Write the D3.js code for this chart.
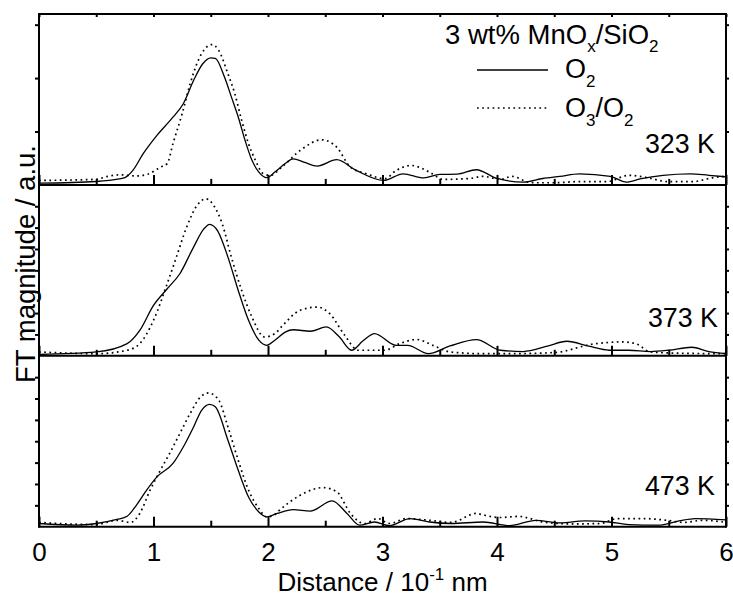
<!DOCTYPE html>
<html>
<head>
<meta charset="utf-8">
<script src="https://cdn.jsdelivr.net/npm/d3@7"></script>
<style>
  body { margin: 0; background: #fff; }
  svg { display: block; font-family: "Liberation Sans", Arial, sans-serif; }
  .axis path, .axis line { stroke: #000; stroke-width: 2; }
  .axis text { font-size: 26px; fill: #000; }
</style>
</head>
<body>
<svg id="chart" width="733" height="596"></svg>
<script>
// distance (10^-1 nm) vs FT magnitude (a.u.)
const p323_O2 = [[0,0.08],[0.5,0.16],[0.7,0.28],[0.75,0.34],[0.82,0.68],[0.91,1.46],[1.03,2.32],[1.17,3.17],[1.26,3.8],[1.35,4.89],[1.43,5.67],[1.5,5.95],[1.54,5.92],[1.62,5.05],[1.68,4.12],[1.74,3.18],[1.8,2.08],[1.86,1.15],[1.92,0.6],[1.99,0.34],[2.06,0.6],[2.15,1.0],[2.22,1.22],[2.32,1.05],[2.43,0.88],[2.6,1.18],[2.77,0.68],[3.01,0.21],[3.18,0.52],[3.36,0.33],[3.5,0.49],[3.65,0.5],[3.82,0.71],[4.0,0.3],[4.23,0.13],[4.4,0.3],[4.55,0.4],[4.72,0.52],[4.99,0.4],[5.13,0.13],[5.25,0.28],[5.45,0.45],[5.69,0.52],[5.85,0.45],[6.0,0.38]];
const p323_O3 = [[0,0.21],[0.5,0.26],[0.6,0.4],[0.71,0.47],[0.85,0.42],[0.95,0.5],[1.06,0.83],[1.12,1.0],[1.17,1.93],[1.25,3.33],[1.32,4.73],[1.39,5.82],[1.51,6.57],[1.57,6.29],[1.65,5.2],[1.71,4.27],[1.77,3.02],[1.83,1.93],[1.89,1.15],[1.96,0.52],[2.02,0.45],[2.12,0.83],[2.28,1.61],[2.47,2.11],[2.6,1.77],[2.72,0.83],[2.86,0.52],[3.02,0.29],[3.12,0.68],[3.25,0.91],[3.41,0.6],[3.53,0.26],[3.76,0.3],[3.88,0.4],[4.03,0.25],[4.13,0.4],[4.3,0.1],[4.5,0.1],[4.7,0.15],[4.96,0.15],[5.15,0.45],[5.3,0.35],[5.5,0.15],[5.7,0.15],[5.9,0.35],[6,0.4]];

const p373_O2 = [[0,0.06],[0.5,0.18],[0.77,0.57],[0.88,1.19],[1.0,2.36],[1.12,3.14],[1.23,3.84],[1.35,5.09],[1.44,5.94],[1.49,6.15],[1.56,5.85],[1.65,4.62],[1.74,3.06],[1.83,1.66],[1.92,0.73],[1.99,0.49],[2.06,0.73],[2.15,1.11],[2.22,1.22],[2.37,1.15],[2.51,1.35],[2.62,0.9],[2.73,0.26],[2.83,0.7],[2.93,1.04],[3.12,0.49],[3.22,0.49],[3.4,0.1],[3.59,0.46],[3.82,0.76],[4.03,0.26],[4.23,0.2],[4.44,0.45],[4.61,0.68],[4.8,0.45],[4.98,0.26],[5.15,0.26],[5.34,0.2],[5.5,0.26],[5.7,0.4],[5.85,0.2],[6,0.1]];
const p373_O3 = [[0,0.18],[0.5,0.1],[0.77,0.26],[0.88,0.57],[1.0,1.66],[1.12,3.38],[1.2,4.62],[1.29,6.03],[1.38,7.04],[1.46,7.35],[1.53,7.0],[1.6,6.18],[1.68,4.62],[1.77,3.06],[1.86,1.81],[1.97,0.88],[2.06,1.04],[2.13,1.43],[2.28,2.13],[2.43,2.28],[2.54,1.97],[2.66,1.04],[2.79,0.26],[3.02,0.26],[3.15,0.57],[3.3,0.76],[3.44,0.49],[3.59,0.18],[3.88,0.1],[4.1,0.1],[4.5,0.15],[4.84,0.55],[5.1,0.65],[5.22,0.55],[5.34,0.18],[5.6,0.12],[6,0.1]];

const p473_O2 = [[0,0.15],[0.33,0.07],[0.5,0.15],[0.68,0.34],[0.77,0.49],[0.85,1.0],[0.94,1.71],[1.03,2.33],[1.17,2.96],[1.26,3.73],[1.35,4.67],[1.42,5.45],[1.49,5.73],[1.54,5.61],[1.65,4.05],[1.74,2.64],[1.83,1.39],[1.92,0.69],[1.99,0.46],[2.08,0.62],[2.22,0.8],[2.37,0.73],[2.56,1.21],[2.69,0.62],[2.8,0.07],[2.93,0.22],[3.06,0.05],[3.24,0.38],[3.41,0.22],[3.6,0.15],[3.88,0.22],[4.11,0.05],[4.34,0.3],[4.55,0.18],[4.77,0.27],[4.98,0.22],[5.15,0.1],[5.41,0.07],[5.59,0.27],[5.73,0.38],[6,0.32]];
const p473_O3 = [[0,0.2],[0.5,0.1],[0.68,0.3],[0.8,0.2],[0.88,0.62],[0.97,1.71],[1.06,2.64],[1.14,3.42],[1.23,4.36],[1.32,5.3],[1.41,6.07],[1.48,6.26],[1.57,5.92],[1.65,4.67],[1.74,3.11],[1.83,1.71],[1.92,0.85],[1.99,0.46],[2.05,0.53],[2.1,0.77],[2.28,1.47],[2.48,1.83],[2.6,1.64],[2.72,0.62],[2.84,0.15],[2.96,0.38],[3.06,0.15],[3.21,0.38],[3.41,0.3],[3.6,0.2],[3.82,0.62],[3.88,0.55],[4.02,0.43],[4.19,0.48],[4.42,0.2],[4.65,0.13],[4.9,0.15],[5.05,0.38],[5.28,0.38],[5.48,0.3],[5.63,0.2],[5.8,0.3],[6,0.2]];

const temps = ["323 K", "373 K", "473 K"];
const seriesO2 = [p323_O2, p373_O2, p473_O2];
const seriesO3 = [p323_O3, p373_O3, p473_O3];
const xMajor = [0, 1, 2, 3, 4, 5, 6];
const xMinor = [0.5, 1.5, 2.5, 3.5, 4.5, 5.5];
const yTicksPanel = [[2.5, 5, 7.5], [1, 2, 3, 4, 5, 6, 7], [1, 2, 3, 4, 5, 6, 7]];

const svg = d3.select("#chart");
const L = 39, R = 726, T = 14, B = 526.7;
const ph = (B - T) / 3;

const x = d3.scaleLinear().domain([0, 6]).range([L, R]);

const line = (y) => d3.line()
  .x(d => x(d[0]))
  .y(d => y(d[1]))
  .curve(d3.curveMonotoneX);

const tempLabelY = [153, 327, 495];
const tempLabelX = [715, 718, 715];

temps.forEach((lab, i) => {
  const top = T + i * ph, bot = T + (i + 1) * ph;
  const y = d3.scaleLinear().domain([0, 8]).range([bot, top]);

  // curves
  svg.append("path").datum(seriesO3[i]).attr("d", line(y))
    .attr("fill", "none").attr("stroke", "#000").attr("stroke-width", 1.7)
    .attr("stroke-dasharray", "1.7 3.5");
  svg.append("path").datum(seriesO2[i]).attr("d", line(y))
    .attr("fill", "none").attr("stroke", "#000").attr("stroke-width", 1.3);

  // inward x ticks on each panel's bottom line
  const gMin = svg.append("g").attr("class", "axis").attr("transform", `translate(0,${bot})`)
    .call(d3.axisBottom(x).tickValues(xMinor).tickSize(-6).tickSizeOuter(0).tickFormat(""));
  gMin.select(".domain").remove();
  const gMaj = svg.append("g").attr("class", "axis").attr("transform", `translate(0,${bot})`)
    .call(d3.axisBottom(x).tickValues(xMajor).tickSize(-10).tickSizeOuter(0)
      .tickPadding(16).tickFormat(i === 2 ? d3.format("d") : ""));
  gMaj.select(".domain").attr("d", `M${L},0H${R}`);

  // small y ticks without labels
  svg.append("g").attr("class", "axis").attr("transform", `translate(${L},0)`)
    .call(d3.axisLeft(y).tickValues(yTicksPanel[i]).tickSize(4).tickFormat(""))
    .select(".domain").remove();
  svg.append("g").attr("class", "axis").attr("transform", `translate(${R},0)`)
    .call(d3.axisRight(y).tickValues(yTicksPanel[i]).tickSize(3).tickFormat(""))
    .select(".domain").remove();

  svg.append("text").attr("x", tempLabelX[i]).attr("y", tempLabelY[i])
    .attr("text-anchor", "end").attr("font-size", 26.8).text(lab);
});

// top frame with tiny ticks
svg.append("g").attr("class", "axis").attr("transform", `translate(0,${T})`)
  .call(d3.axisTop(x).tickValues(xMajor.concat(xMinor)).tickSize(-3).tickSizeOuter(0).tickFormat(""))
  .select(".domain").attr("d", `M${L},0H${R}`);

// side lines
svg.append("line").attr("x1", L).attr("x2", L).attr("y1", T - 1).attr("y2", B + 1)
  .attr("stroke", "#000").attr("stroke-width", 2);
svg.append("line").attr("x1", R).attr("x2", R).attr("y1", T - 1).attr("y2", B + 1)
  .attr("stroke", "#000").attr("stroke-width", 2);

// axis titles
const xt = svg.append("text").attr("x", (L + R) / 2).attr("y", 591)
  .attr("text-anchor", "middle").attr("font-size", 26);
xt.append("tspan").text("Distance / 10");
xt.append("tspan").attr("font-size", 17).attr("dy", -11).text("-1");
xt.append("tspan").attr("dy", 11).text(" nm");

svg.append("text").attr("transform", "translate(35,264) rotate(-90)")
  .attr("text-anchor", "middle").attr("font-size", 27.5).text("FT magnitude / a.u.");

// legend
const ttl = svg.append("text").attr("x", 445).attr("y", 44).attr("font-size", 27.5);
ttl.append("tspan").text("3 wt% MnO");
ttl.append("tspan").attr("font-size", 17).attr("dy", 8).text("x");
ttl.append("tspan").attr("dy", -8).text("/SiO");
ttl.append("tspan").attr("font-size", 17).attr("dy", 8).text("2");

svg.append("line").attr("x1", 477).attr("x2", 548).attr("y1", 70).attr("y2", 70)
  .attr("stroke", "#000").attr("stroke-width", 1.3);
svg.append("line").attr("x1", 477).attr("x2", 548).attr("y1", 108).attr("y2", 108)
  .attr("stroke", "#000").attr("stroke-width", 1.7).attr("stroke-dasharray", "1.7 3.5");

const l1 = svg.append("text").attr("x", 565).attr("y", 78).attr("font-size", 27);
l1.append("tspan").text("O");
l1.append("tspan").attr("font-size", 17).attr("dy", 9).text("2");

const l2 = svg.append("text").attr("x", 565).attr("y", 117).attr("font-size", 27);
l2.append("tspan").text("O");
l2.append("tspan").attr("font-size", 17).attr("dy", 9).text("3");
l2.append("tspan").attr("dy", -9).text("/O");
l2.append("tspan").attr("font-size", 17).attr("dy", 9).text("2");
</script>
</body>
</html>
